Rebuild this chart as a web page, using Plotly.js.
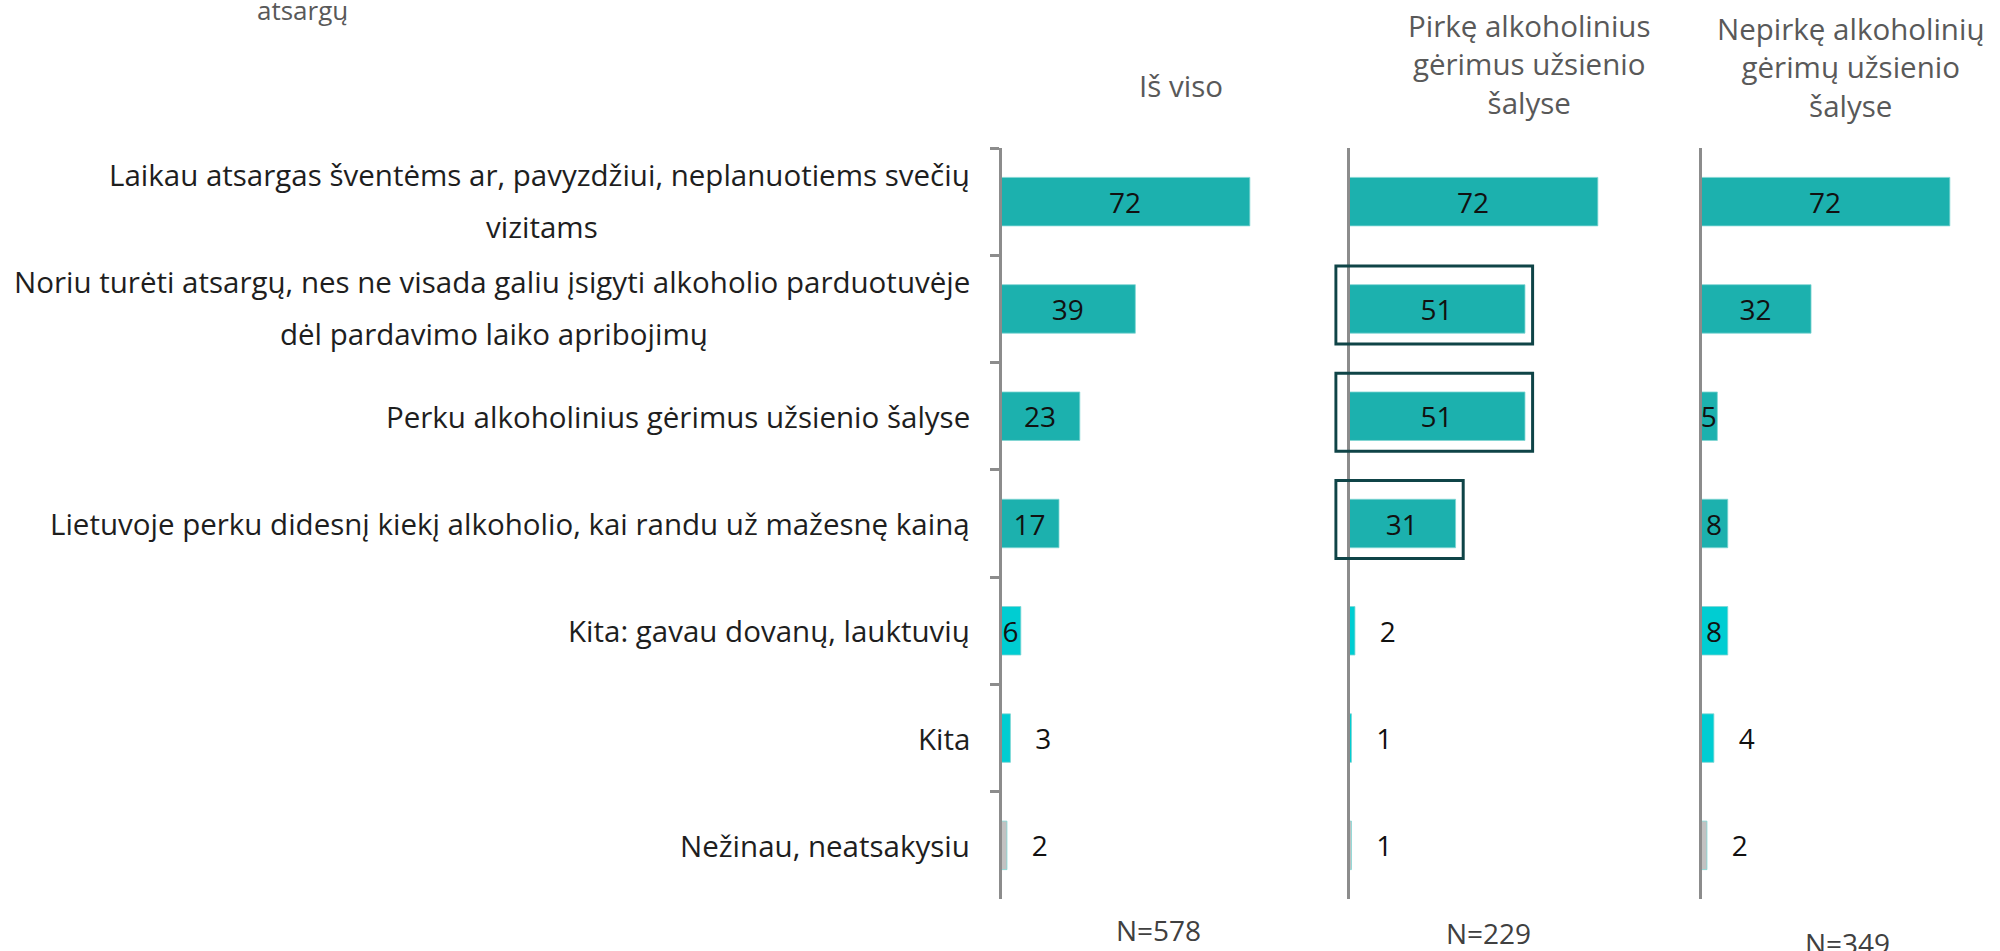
<!DOCTYPE html>
<html><head><meta charset="utf-8">
<script src="https://cdn.plot.ly/plotly-3.0.1.min.js"></script>
<style>html,body{margin:0;padding:0;background:#fff}#chart{width:2000px;height:951px}</style>
</head><body><div id="chart"></div>
<script>
// ---------- data ----------
const categories = [
  "Laikau atsargas šventėms ar, pavyzdžiui, neplanuotiems svečių vizitams",
  "Noriu turėti atsargų, nes ne visada galiu įsigyti alkoholio parduotuvėje dėl pardavimo laiko apribojimų",
  "Perku alkoholinius gėrimus užsienio šalyse",
  "Lietuvoje perku didesnį kiekį alkoholio, kai randu už mažesnę kainą",
  "Kita: gavau dovanų, lauktuvių",
  "Kita",
  "Nežinau, neatsakysiu"
];
const categoryLines = [
  ["Laikau atsargas šventėms ar, pavyzdžiui, neplanuotiems svečių", "vizitams"],
  ["Noriu turėti atsargų, nes ne visada galiu įsigyti alkoholio parduotuvėje", "dėl pardavimo laiko apribojimų"],
  ["Perku alkoholinius gėrimus užsienio šalyse"],
  ["Lietuvoje perku didesnį kiekį alkoholio, kai randu už mažesnę kainą"],
  ["Kita: gavau dovanų, lauktuvių"],
  ["Kita"],
  ["Nežinau, neatsakysiu"]
];
const panelTitles = [
  ["Iš viso"],
  ["Pirkę alkoholinius", "gėrimus užsienio", "šalyse"],
  ["Nepirkę alkoholinių", "gėrimų užsienio", "šalyse"]
];
const totalValues     = [72, 39, 23, 17, 6, 3, 2];
const boughtValues    = [72, 51, 51, 31, 2, 1, 1];
const notBoughtValues = [72, 32, 5, 8, 8, 4, 2];
const sampleSizes = ["N=578", "N=229", "N=349"];
const highlightedInBought = [1, 2, 3];
const titleFragment = "atsargų";

// ---------- styles ----------
const barColors = ["#1CB1AE", "#1CB1AE", "#1CB1AE", "#1CB1AE", "#00CDD2", "#00CDD2", "#C2C2C2"];
const axisGray = "#8C8C8C";
const FONT = '"Open Sans", "Noto Sans", sans-serif';
const labelSize = 29.5;
const valueSize = 28;

function measure(text, size, family) {
  const c = document.createElement('canvas').getContext('2d');
  c.font = size + 'px ' + family;
  return c.measureText(text).width;
}

const W = 2000, H = 951;
const pxUnit = 3.47;
const xSpan = 80;
const xStart = [0, -4, 0];          // panel 2 starts a little left of zero so the boxes fit
const axisPx = [1000, 1348, 1700];  // pixel where value 0 sits
const plotTop = 148, plotBottom = 899;
const yDomain = [1 - plotBottom / H, 1 - plotTop / H];

const panelValues = [totalValues, boughtValues, notBoughtValues];
const traces = panelValues.map((vals, p) => {
  const pos = vals.map(v => v >= 5 ? 'inside' : 'outside');
  return {
    type: 'bar', orientation: 'h',
    x: vals, y: categories,
    xaxis: p === 0 ? 'x' : 'x' + (p + 1),
    yaxis: p === 0 ? 'y' : 'y' + (p + 1),
    marker: {color: barColors, line: {color: '#7FD6D3', width: 0.8}},
    text: vals.map((v, i) => pos[i] === 'outside' ? '\u00a0\u00a0\u00a0' + v : String(v)),
    textposition: pos,
    insidetextanchor: 'middle',
    constraintext: 'none',
    cliponaxis: false,
    textfont: {family: FONT, size: valueSize, color: '#111111'},
    hoverinfo: 'skip'
  };
});

const layout = {
  width: W, height: H,
  margin: {l: 0, r: 0, t: 0, b: 0},
  paper_bgcolor: '#ffffff', plot_bgcolor: 'rgba(0,0,0,0)',
  showlegend: false,
  bargap: 0.548,
  annotations: [],
  shapes: []
};

for (let p = 0; p < 3; p++) {
  const xs = p === 0 ? '' : String(p + 1);
  const left = axisPx[p] + xStart[p] * pxUnit;
  layout['xaxis' + xs] = {
    domain: [left / W, (left + xSpan * pxUnit) / W],
    range: [xStart[p], xStart[p] + xSpan], visible: false, fixedrange: true
  };
  layout['yaxis' + xs] = {
    domain: yDomain,
    anchor: 'free', position: axisPx[p] / W,
    type: 'category', categoryarray: categories, categoryorder: 'array',
    autorange: 'reversed',
    showline: true, linecolor: axisGray, linewidth: 3,
    showgrid: false, zeroline: false, showticklabels: false,
    ticks: p === 0 ? 'outside' : '', tickson: 'boundaries',
    ticklen: 9, tickwidth: 3, tickcolor: axisGray, fixedrange: true
  };
}

// category labels
const labelRight = 972;
const labelFont = {family: FONT, size: labelSize, color: '#1E1E1E'};
categoryLines.forEach((lines, i) => {
  if (lines.length === 1) {
    layout.annotations.push({
      xref: 'paper', yref: 'y', x: labelRight / W, y: categories[i],
      xanchor: 'right', yanchor: 'middle', showarrow: false, text: lines[0], font: labelFont
    });
  } else {
    const w = measure(lines[0], labelSize, FONT);
    const center = labelRight - w / 2;
    layout.annotations.push({
      xref: 'paper', yref: 'y', x: labelRight / W, y: categories[i], yshift: 27,
      xanchor: 'right', yanchor: 'middle', showarrow: false, text: lines[0], font: labelFont
    });
    layout.annotations.push({
      xref: 'paper', yref: 'y', x: center / W, y: categories[i], yshift: -25,
      xanchor: 'center', yanchor: 'middle', showarrow: false, text: lines[1], font: labelFont
    });
  }
});

// panel titles (one block each, centred)
const titleX = [1181, 1529, 1851];
const titleY = [85, 64, 67];
panelTitles.forEach((lines, p) => {
  layout.annotations.push({
    xref: 'paper', yref: 'paper', x: titleX[p] / W, y: 1 - titleY[p] / H,
    xanchor: 'center', yanchor: 'middle', align: 'center', showarrow: false,
    text: lines.join('<br>'),
    font: {family: FONT, size: 29.5, color: '#595959'}
  });
});

// sample sizes
const nX = [1158, 1488, 1847];
const nY = [930, 933, 943];
sampleSizes.forEach((s, p) => {
  layout.annotations.push({
    xref: 'paper', yref: 'paper', x: nX[p] / W, y: 1 - nY[p] / H,
    xanchor: 'center', yanchor: 'middle', showarrow: false, text: s,
    font: {family: FONT, size: 28, color: '#404040'}
  });
});

// cut-off title fragment
layout.annotations.push({
  xref: 'paper', yref: 'paper', x: 302 / W, y: 1 - 10 / H,
  xanchor: 'center', yanchor: 'middle', showarrow: false, text: titleFragment,
  font: {family: FONT, size: 26, color: '#595959'}
});

// highlight boxes in the "bought" panel
highlightedInBought.forEach(i => {
  layout.shapes.push({
    type: 'rect', xref: 'x2', yref: 'y2',
    x0: -3.5, x1: boughtValues[i] + 2.2,
    y0: i - 0.40, y1: i + 0.327,
    line: {color: '#0F4447', width: 3}, fillcolor: 'rgba(0,0,0,0)'
  });
});

Plotly.newPlot('chart', traces, layout, {displayModeBar: false, staticPlot: true});
</script>
</body></html>
